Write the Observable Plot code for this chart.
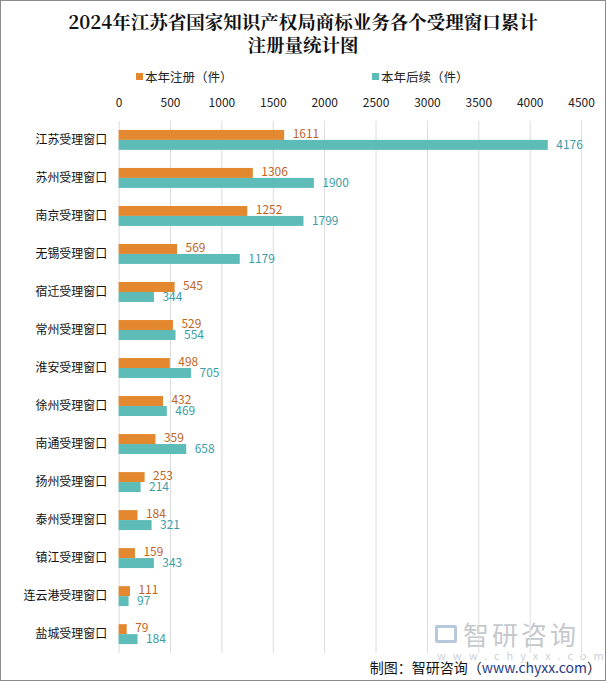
<!DOCTYPE html>
<html><head><meta charset="utf-8">
<script src="https://cdn.jsdelivr.net/npm/d3@7"></script>
<script src="https://cdn.jsdelivr.net/npm/@observablehq/plot@0.6"></script>
<style>
body{margin:0;font-family:"Noto Sans CJK SC","Microsoft YaHei",sans-serif;}
#wrap{position:relative;width:604px;height:679px;border:1px solid #8c8c8c;background:#fff;overflow:hidden;}
#title{position:absolute;left:0;top:9px;width:604px;text-align:center;font-family:"Noto Serif CJK SC","Noto Sans CJK SC",serif;font-weight:bold;font-size:18.5px;line-height:23px;color:#111;}
.leg{position:absolute;top:66px;font-size:12.5px;color:#222;display:flex;align-items:center;}
.sw{display:inline-block;width:7px;height:7px;margin-right:2px;}
#chart{position:absolute;left:-1px;top:88px;}
#cap{position:absolute;right:4px;top:656px;font-size:14px;color:#111;}
#cap span{color:#1f3c88;}
#wm{position:absolute;left:434px;top:614px;color:#c6c9cc;font-size:26px;letter-spacing:3px;display:flex;align-items:center;}
#wm .ic{display:inline-block;width:22px;height:18px;border:3px solid #b8c8dc;border-radius:2px;margin-right:6px;box-sizing:border-box;}
#wm2{position:absolute;left:436px;top:646px;color:#cfd2d4;font-size:11px;letter-spacing:7px;}
</style></head>
<body>
<div id="wrap">
<div id="title">2024年江苏省国家知识产权局商标业务各个受理窗口累计<br>注册量统计图</div>
<div class="leg" style="left:135px"><span class="sw" id="sw1"></span><span id="l1"></span></div>
<div class="leg" style="left:371px"><span class="sw" id="sw2"></span><span id="l2"></span></div>
<div id="wm"><span class="ic"></span>智研咨询</div>
<div id="wm2">www.chyxx.com</div>
<div id="chart"></div>
<div id="cap">制图：智研咨询（<span>www.chyxx.com</span>）</div>
</div>
<script>
const categories = ["江苏受理窗口","苏州受理窗口","南京受理窗口","无锡受理窗口","宿迁受理窗口","常州受理窗口","淮安受理窗口","徐州受理窗口","南通受理窗口","扬州受理窗口","泰州受理窗口","镇江受理窗口","连云港受理窗口","盐城受理窗口"];
const registered = [1611,1306,1252,569,545,529,498,432,359,253,184,159,111,79];
const renewal = [4176,1900,1799,1179,344,554,705,469,658,214,321,343,97,184];
const seriesNames = ["本年注册（件）","本年后续（件）"];
const xTicks = [0,500,1000,1500,2000,2500,3000,3500,4000,4500];

const cOrange = "#e3882f", cTeal = "#5dbcb7";
const tOrange = "#c0651f", tTeal = "#3a9da6";
document.getElementById("sw1").style.background = cOrange;
document.getElementById("sw2").style.background = cTeal;
document.getElementById("l1").textContent = seriesNames[0];
document.getElementById("l2").textContent = seriesNames[1];

const data = categories.map((c,i)=>({cat:c, reg:registered[i], ren:renewal[i]}));

const H = 569, mT = 32, mB = 3;
const step = (H - mT - mB) / categories.length;
const barH = 10;
const top1 = step/2 - barH;

const chart = Plot.plot({
  width: 607, height: H,
  marginLeft: 119, marginRight: 24, marginTop: mT, marginBottom: mB,
  style: {fontFamily: '"Noto Sans CJK SC", sans-serif', fontSize: "12px", color: "#222", background: "transparent"},
  x: {domain: [0,4500], axis: "top", ticks: xTicks, tickFormat: d => String(d), tickSize: 0, tickPadding: 14, label: null, grid: false},
  y: {domain: categories, padding: 0, round: false, tickSize: 0, tickPadding: 12, label: null},
  marks: [
    Plot.ruleX(xTicks, {stroke: "#dcdcdc", strokeWidth: 1}),
    Plot.barX(data, {y: "cat", x: "reg", fill: cOrange, insetTop: top1, insetBottom: step - top1 - barH}),
    Plot.barX(data, {y: "cat", x: "ren", fill: cTeal, insetTop: top1 + barH, insetBottom: step - top1 - 2*barH}),
    Plot.text(data, {y: "cat", x: "reg", text: d => String(d.reg), fill: tOrange, textAnchor: "start", dx: 8, dy: -6, fontSize: 12}),
    Plot.text(data, {y: "cat", x: "ren", text: d => String(d.ren), fill: tTeal, textAnchor: "start", dx: 8, dy: 5, fontSize: 12})
  ]
});
chart.querySelectorAll('[aria-label="y-axis tick label"] text').forEach(e=>{e.style.fill="#111";});
document.getElementById("chart").appendChild(chart);
</script>
</body></html>
